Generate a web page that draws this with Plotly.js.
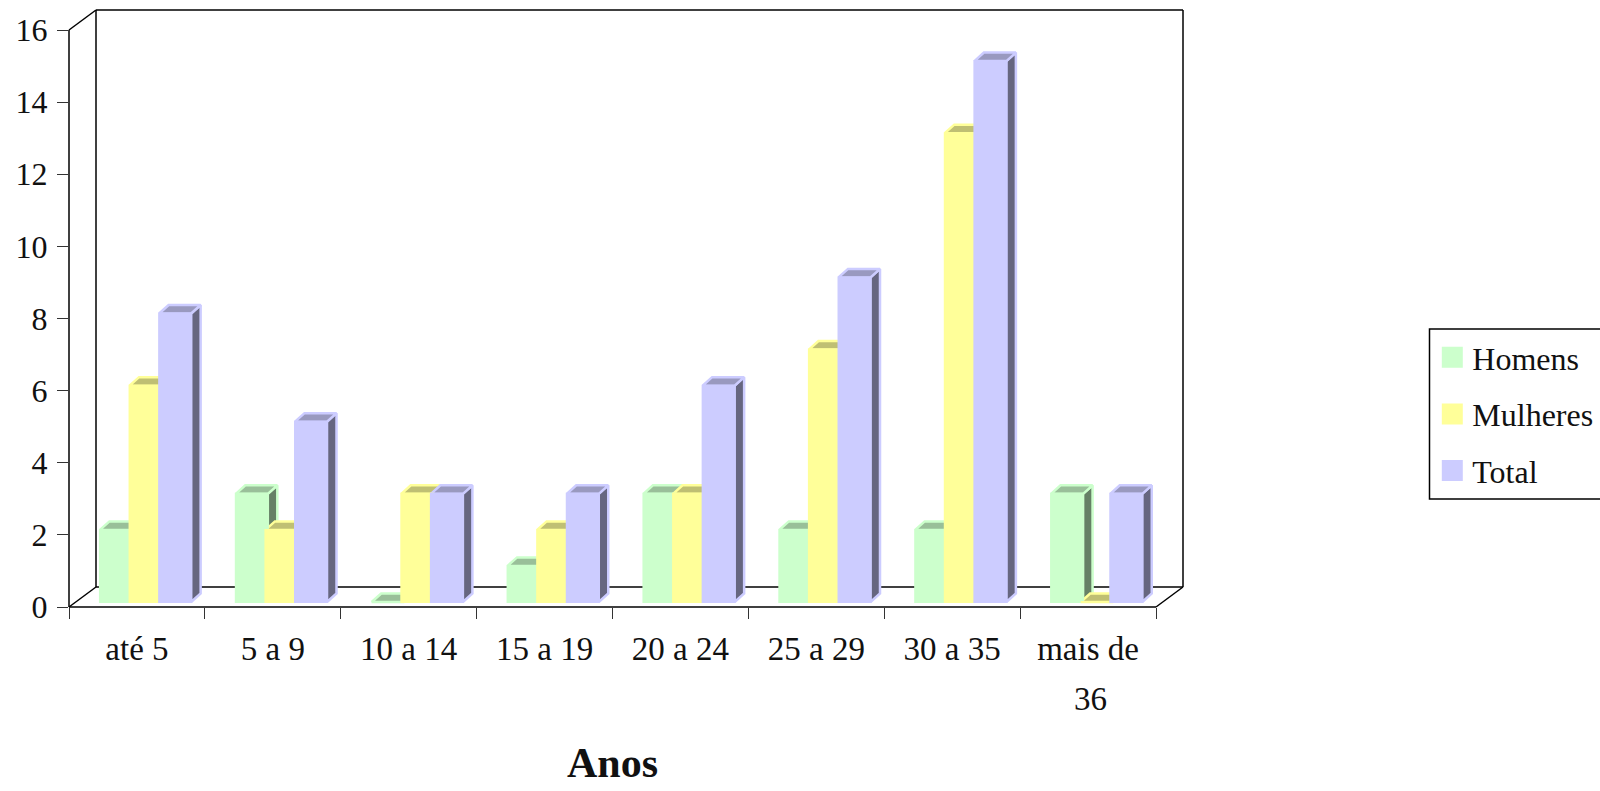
<!DOCTYPE html>
<html><head><meta charset="utf-8">
<script src="https://cdn.plot.ly/plotly-3.0.1.min.js"></script>
<style>html,body{margin:0;padding:0;background:#fff;overflow:hidden}#c{width:1600px;height:791px}</style>
</head><body><div id="c"></div>
<script>
var categories = ['até 5','5 a 9','10 a 14','15 a 19','20 a 24','25 a 29','30 a 35','mais de 36'];
var tickLabels = ['até 5','5 a 9','10 a 14','15 a 19','20 a 24','25 a 29','30 a 35','mais de'];
var homens   = [2,3,0,1,3,2,2,3];
var mulheres = [6,2,3,2,3,7,13,0];
var total    = [8,5,3,3,6,9,15,3];
var seriesNames = ['Homens','Mulheres','Total'];

var F = 'Liberation Serif, serif';
var L = 69, R = 1156, T = 30, B = 607;          // front plane of the plot, px
var BX = 27, BY = 20;                           // depth of the chart box, px
var catW = (R - L) / 8, unit = (B - T) / 16;
var shift = 5 / unit;                           // bars stand slightly inside the box
var barW = 32 / catW, step = 29.6 / catW, off0 = -37 / catW;
var dx = 9.5 / catW, dy = 8.5 / unit;
var styles = [
  {face:'#CCFFCC', top:'#99BF99', side:'#668066'},
  {face:'#FFFF99', top:'#BFBF73', side:'#808050'},
  {face:'#CCCCFF', top:'#9999BF', side:'#666680'}
];
var series = [homens, mulheres, total];

var traces = [];
series.forEach(function(vals, s){
  var sx=[], sy=[], tx=[], ty=[];
  vals.forEach(function(v, i){
    var a = i + off0 + s*step, b = a + barW, y = v + shift;
    sx.push(b, b+dx, b+dx, b, b, null);
    sy.push(y, y+dy, shift+dy, shift, y, null);
    tx.push(a, a+dx, b+dx, b, a, null);
    ty.push(y, y+dy, y+dy, y, y, null);
  });
  [[sx,sy,styles[s].side],[tx,ty,styles[s].top]].forEach(function(p){
    traces.push({type:'scatter', mode:'lines', x:p[0], y:p[1], xaxis:'x', yaxis:'y',
      fill:'toself', fillcolor:p[2], line:{color:styles[s].face, width:2.5},
      hoverinfo:'skip', showlegend:false, legendgroup:seriesNames[s], cliponaxis:false});
  });
});
series.forEach(function(vals, s){
  traces.push({type:'bar', x:categories, y:vals, name:seriesNames[s], xaxis:'x2', yaxis:'y2',
    width:barW, offset:off0 + s*step,
    marker:{color:styles[s].face, line:{color:styles[s].face, width:2}},
    showlegend:false, legendgroup:seriesNames[s]});
});
seriesNames.forEach(function(n, s){
  traces.push({type:'scatter', mode:'markers', x:[null], y:[null], name:n, xaxis:'x', yaxis:'y',
    marker:{symbol:'square', size:16, color:styles[s].face, line:{color:styles[s].face, width:5}},
    showlegend:true, legendgroup:n, hoverinfo:'skip'});
});

function px(X){ return (X - L) / (R - L); }
function py(Y){ return (B - Y) / (B - T); }
function seg(x0,y0,x1,y1){
  return {type:'line', xref:'paper', yref:'paper', layer:'below',
    x0:px(x0), y0:py(y0), x1:px(x1), y1:py(y1), line:{color:'#000', width:1.5}};
}
var shapes = [
  seg(L,B,R,B), seg(L,B,L,T), seg(L,B,L+BX,B-BY), seg(L,T,L+BX,T-BY),
  seg(L+BX,T-BY,L+BX,B-BY), seg(L+BX,T-BY,R+BX,T-BY), seg(R+BX,T-BY,R+BX,B-BY),
  seg(L+BX,B-BY,R+BX,B-BY), seg(R,B,R+BX,B-BY),
  {type:'rect', xref:'paper', yref:'paper', x0:px(1429.5), x1:px(1640), y0:py(329), y1:py(499),
   line:{color:'#000', width:1.5}, fillcolor:'rgba(0,0,0,0)', layer:'below'}
];

var layout = {
  width:1600, height:791, paper_bgcolor:'#fff', plot_bgcolor:'rgba(0,0,0,0)',
  font:{family:F, size:32, color:'#111'},
  margin:{l:L, r:1600-R, t:T, b:791-B, pad:0, autoexpand:false},
  barmode:'overlay', showlegend:true, hovermode:'closest',
  xaxis:{type:'linear', range:[-0.5,7.5], visible:false, fixedrange:true},
  yaxis:{range:[0,16], tickmode:'array', tickvals:[0,2,4,6,8,10,12,14,16], ticks:'outside', ticklen:11,
    tickcolor:'#333', tickwidth:1.2, showgrid:false, zeroline:false, showline:false, fixedrange:true,
    tickfont:{family:F, size:32, color:'#111'}, ticklabelstandoff:3},
  xaxis2:{type:'category', overlaying:'x', anchor:'y2', range:[-0.5,7.5], categoryorder:'array', categoryarray:categories,
    tickmode:'array', tickvals:categories, ticktext:tickLabels, tickson:'boundaries', ticks:'outside', ticklen:11,
    tickcolor:'#333', tickwidth:1.2, tickangle:0, showgrid:false, zeroline:false, showline:false, fixedrange:true,
    tickfont:{family:F, size:33, color:'#111'}, ticklabelstandoff:19, automargin:false},
  yaxis2:{overlaying:'y', range:[-shift, 16-shift], visible:false, fixedrange:true},
  legend:{x:px(1432.3), xanchor:'left', y:py(330), yanchor:'top', borderwidth:0, bgcolor:'rgba(0,0,0,0)',
    tracegroupgap:12, font:{family:F, size:32, color:'#111'}, traceorder:'grouped'},
  annotations:[
    {xref:'x2', yref:'paper', x:'mais de 36', y:py(699), text:'36', showarrow:false, xshift:2,
     font:{family:F, size:33, color:'#111'}, xanchor:'center', yanchor:'middle'},
    {xref:'paper', yref:'paper', x:0.5, y:py(763), text:'<b>Anos</b>', showarrow:false,
     font:{family:F, size:42, color:'#111'}, xanchor:'center', yanchor:'middle'}
  ],
  shapes:shapes
};
Plotly.newPlot('c', traces, layout, {displayModeBar:false, responsive:false});
</script></body></html>
